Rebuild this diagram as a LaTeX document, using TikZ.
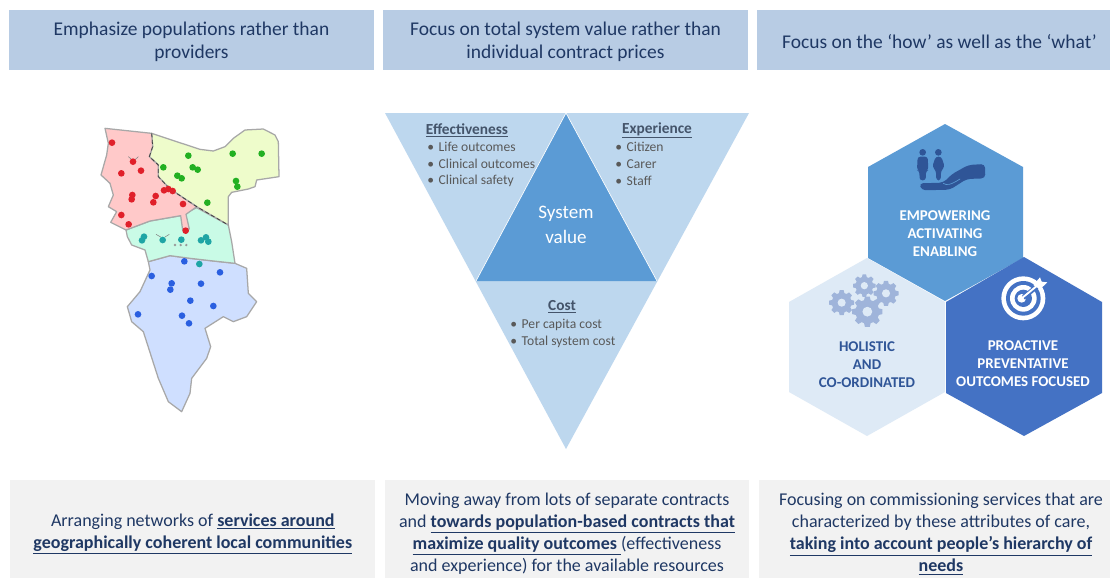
\documentclass[tikz,border=0pt]{standalone}
\usepackage{fontspec}
\setmainfont{Carlito}
\definecolor{hdrfill}{HTML}{B8CCE4}
\definecolor{botfill}{HTML}{F2F2F2}
\definecolor{inktext}{HTML}{1F3864}
\definecolor{paletri}{HTML}{BDD7EE}
\definecolor{midblue}{HTML}{5B9BD5}
\definecolor{palehex}{HTML}{DEEAF6}
\definecolor{deephex}{HTML}{4472C4}
\definecolor{darkicon}{HTML}{2F5597}
\definecolor{gearcol}{HTML}{9FB4DA}
\definecolor{greytext}{HTML}{595959}
\definecolor{headtext}{HTML}{44546A}
\definecolor{mapred}{HTML}{FFC9C9}
\definecolor{mapgreen}{HTML}{EEFCCB}
\definecolor{mapteal}{HTML}{C9FBE6}
\definecolor{mapblue}{HTML}{CFDFFF}
\definecolor{mapedge}{HTML}{A8A8A8}
\definecolor{dotred}{HTML}{E0202A}
\definecolor{dotgreen}{HTML}{22B022}
\definecolor{dotteal}{HTML}{1FA5A5}
\definecolor{dotblue}{HTML}{2A5FE0}
\newcommand\ubf[1]{\underline{\textbf{#1}}}
\newcommand\gearat[4]{%
  \begin{scope}[shift={(#1,#2)}]
    \pgfmathsetmacro\Ra{#3*0.78}
    \fill[gearcol] (-16:\Ra) \foreach \a in {0,45,...,315} { -- (\a-16:\Ra) -- (\a-9:#3) -- (\a+9:#3) -- (\a+16:\Ra) } -- cycle;
    \fill[#4] (0,0) circle ({#3*0.32});
  \end{scope}}
\tikzset{
  hdrbox/.style={fill=hdrfill,minimum height=45pt,inner sep=0pt},
  botbox/.style={fill=botfill,minimum height=73.5pt,inner sep=0pt},
  hdrtext/.style={text=inktext,align=center,inner sep=0pt,font=\fontsize{14.6}{17.3}\selectfont},
  bottext/.style={text=inktext,align=center,inner sep=0pt,font=\fontsize{13.5}{16.5}\selectfont},
  trilist/.style={text=greytext,anchor=west,inner sep=0pt,font=\fontsize{10.2}{12}\selectfont},
  trihead/.style={text=headtext,inner sep=0pt,font=\fontsize{11.5}{13}\selectfont\bfseries},
  hexlabel/.style={align=center,inner sep=0pt,font=\fontsize{11.2}{13.5}\selectfont\bfseries},
  sysword/.style={text=white,inner sep=0pt,font=\fontsize{14.3}{16}\selectfont},
  mapregion/.style={draw=mapedge,line width=0.95pt,line join=round},
}
\begin{document}
\begin{tikzpicture}[x=0.75pt,y=-0.75pt]
\useasboundingbox (0,0) rectangle (1110,578);
\fill[white] (0,0) rectangle (1110,578);

% header boxes
\node[hdrbox,minimum width=273.75pt] (h1) at (191.5,40) {};
\node[hdrbox,minimum width=273.75pt] (h2) at (565.5,40) {};
\node[hdrbox,minimum width=264.75pt] (h3) at (933.5,40) {};
\node[hdrtext] (ht1) at (191.5,41.5) {Emphasize populations rather than\\providers};
\node[hdrtext] (ht2) at (565.5,41.5) {Focus on total system value rather than\\individual contract prices};
\node[hdrtext] (ht3) at (939.5,41.5) {Focus on the ‘how’ as well as the ‘what’};

% bottom boxes
\node[botbox,minimum width=273.75pt] (b1) at (192.5,529) {};
\node[botbox,minimum width=273pt] (b2) at (567,529) {};
\node[botbox,minimum width=263.25pt] (b3) at (934.5,529) {};
\node[bottext] (bt1) at (192.8,534) {Arranging networks of \ubf{services around}\\\ubf{geographically coherent local communities}};
\node[bottext] (bt2) at (567,534) {Moving away from lots of separate contracts\\and \ubf{towards population-based contracts that}\\\ubf{maximize quality outcomes }(effectiveness\\and experience) for the available resources};
\node[bottext] (bt3) at (941,534) {Focusing on commissioning services that are\\characterized by these attributes of care,\\\ubf{taking into account people’s hierarchy of}\\\ubf{needs}};

% map
\begin{scope}[shift={(90,115)},x=0.25pt,y=-0.25pt]
\filldraw[mapregion,fill=mapblue] (175,440) -- (240,422) -- (300,430) -- (370,438) -- (435,445) -- (470,460) -- (475,535) -- (500,560) -- (470,605) -- (430,620) -- (400,605) -- (345,640) -- (362,695) -- (350,730) -- (305,790) -- (300,835) -- (275,890) -- (235,860) -- (205,790) -- (160,650) -- (125,620) -- (112,575) -- (150,530) -- (180,465) -- cycle;
\filldraw[mapregion,fill=mapteal] (108,345) -- (180,318) -- (272,302) -- (320,278) -- (415,330) -- (425,380) -- (435,445) -- (370,438) -- (300,430) -- (240,422) -- (175,440) -- (165,405) -- (125,390) -- (112,365) -- cycle;
\filldraw[mapregion,fill=mapgreen] (185,55) -- (260,80) -- (330,103) -- (370,108) -- (405,95) -- (430,70) -- (465,45) -- (520,42) -- (555,60) -- (565,80) -- (567,185) -- (500,195) -- (495,215) -- (475,222) -- (425,232) -- (415,245) -- (415,330) -- (320,275) -- (240,222) -- (205,185) -- (205,150) -- (178,125) -- (188,95) -- cycle;
\filldraw[mapregion,fill=mapred] (45,40) -- (185,55) -- (188,95) -- (178,125) -- (205,150) -- (205,185) -- (240,222) -- (320,275) -- (288,298) -- (298,342) -- (278,345) -- (272,302) -- (180,318) -- (108,345) -- (62,322) -- (80,290) -- (55,275) -- (70,240) -- (60,205) -- (33,180) -- (50,120) -- (55,85) -- cycle;
\draw[black!75,line width=0.6pt,densely dashed] (185,55) -- (188,95) -- (178,125) -- (205,150) -- (205,185) -- (240,222) -- (320,275) -- (415,330);
\draw[gray,line width=0.4pt] (115,125) -- (128,136) (145,125) -- (133,136) (198,358) -- (212,366) (238,358) -- (225,366);
\foreach \p in {(255,390),(272,390),(289,390)} \fill[gray!80] \p circle (4);
\foreach \p in {(66,83),(129,140),(153,167),(94,175),(127,240),(125,253),(197,243),(190,262),(222,226),(235,222),(248,228),(279,267),(94,300),(116,328),(287,347)} \fill[dotred] \p circle (10);
\foreach \p in {(295,122),(220,157),(308,157),(323,164),(262,182),(275,190),(428,116),(515,116),(438,198),(442,215),(352,263)} \fill[dotgreen] \p circle (10);
\foreach \p in {(162,365),(156,376),(218,375),(274,374),(333,376),(348,367),(355,380),(328,447)} \fill[dotteal] \p circle (10);
\foreach \p in {(283,439),(185,483),(390,472),(245,505),(241,524),(333,506),(301,557),(370,573),(144,598),(276,602),(297,625)} \fill[dotblue] \p circle (10);
\end{scope}

% value triangles
\fill[paletri] (385,113) -- (749,113) -- (566,449) -- cycle;
\fill[midblue] (566,113) -- (657,281) -- (476,281) -- cycle;
\draw[white,line width=0.5pt] (566,113) -- (657,281) (566,113) -- (476,281);
\node[sysword] (sys1) at (566,213.5) {System};
\node[sysword] (sys2) at (566,237) {value};
\node[trihead] (eff) at (467,130.5) {\underline{Effectiveness}};
\node[trilist] (eff1) at (427,147) {•\hspace{3.5pt}Life outcomes};
\node[trilist] (eff2) at (427,164) {•\hspace{3.5pt}Clinical outcomes};
\node[trilist] (eff3) at (427,180.5) {•\hspace{3.5pt}Clinical safety};
\node[trihead] (exp) at (657,130.5) {\underline{Experience}};
\node[trilist] (exp1) at (615,147) {•\hspace{3.5pt}Citizen};
\node[trilist] (exp2) at (615,164) {•\hspace{3.5pt}Carer};
\node[trilist] (exp3) at (615,180.5) {•\hspace{3.5pt}Staff};
\node[trihead] (cost) at (562,307) {\underline{Cost}};
\node[trilist] (cost1) at (510,325) {•\hspace{3.5pt}Per capita cost};
\node[trilist] (cost2) at (510,342) {•\hspace{3.5pt}Total system cost};

% hexagons
\fill[midblue] (945,124) -- (1023,167) -- (1023,258) -- (945,301) -- (868,258) -- (868,167) -- cycle;
\fill[palehex] (867,258) -- (945,302) -- (945,392) -- (867,436) -- (789,392) -- (789,302) -- cycle;
\fill[deephex] (1024,257) -- (1102,302) -- (1102,393) -- (1024,436) -- (946,393) -- (946,302) -- cycle;
\node[hexlabel,text=white] (hx1) at (945,234) {EMPOWERING\\ACTIVATING\\ENABLING};
\node[hexlabel,text=darkicon] (hx2) at (867,365) {HOLISTIC\\AND\\CO-ORDINATED};
\node[hexlabel,text=white] (hx3) at (1023,364) {PROACTIVE\\PREVENTATIVE\\OUTCOMES FOCUSED};

% icons in the hexagons
\begin{scope}[shift={(780,115)},x=0.25pt,y=-0.25pt]
\fill[darkicon] (428,112) circle (10);
\fill[darkicon,rounded corners=2pt] (413,125) -- (443,125) -- (445,165) -- (438,168) -- (437,196) -- (419,196) -- (418,168) -- (411,165) -- cycle;
\fill[darkicon] (475,112) circle (10);
\fill[darkicon,rounded corners=2pt] (467,125) -- (484,125) -- (494,155) -- (483,168) -- (482,196) -- (469,196) -- (468,168) -- (457,155) -- cycle;
\fill[darkicon,rounded corners=3pt] (417,205) -- (490,203) -- (515,178) -- (565,150) -- (615,147) -- (616,190) -- (560,192) -- (510,224) -- (425,226) -- cycle;
\draw[midblue,line width=0.5pt,line cap=round] (490,205) .. controls (500,212) and (512,210) .. (540,192);
\gearat{253}{512}{34}{palehex}
\gearat{318}{535}{38}{palehex}
\gearat{185}{563}{38}{palehex}
\gearat{262}{590}{46}{palehex}
\end{scope}
\begin{scope}[shift={(940,250)},x=0.25pt,y=-0.25pt]
\fill[white] (250,145) circle (66);
\fill[deephex] (250,145) circle (52);
\fill[white] (250,145) circle (40);
\fill[deephex] (250,145) circle (26);
\fill[white] (245,145) circle (13);
\draw[deephex,line width=3.5pt] (250,143) -- (320,85);
\draw[white,line width=1.4pt] (245,145) -- (300,100);
\fill[white] (280,105) -- (300,82) -- (305,95) -- (322,97) -- (300,118) -- cycle;
\end{scope}
\end{tikzpicture}
\end{document}
